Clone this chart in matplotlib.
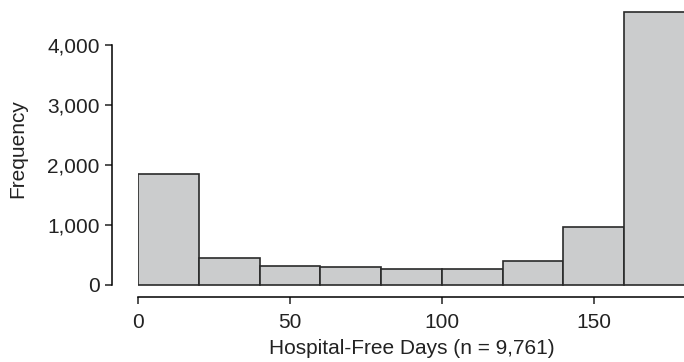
import numpy as np
import matplotlib.pyplot as plt

plt.rcParams['font.family'] = ['Liberation Sans', 'DejaVu Sans']

# histogram bins (hospital-free days) and counts
bin_edges = [0, 20, 40, 60, 80, 100, 120, 140, 160, 180]
counts = [1855, 455, 322, 300, 267, 272, 405, 967, 4555]
yticks = [0, 1000, 2000, 3000, 4000]
xticks = [0, 50, 100, 150]

fig = plt.figure(figsize=(6.84, 3.62), dpi=100)
ax = fig.add_axes([138/684, (362-296.7)/362, 547/684, 296.7/362])

widths = np.diff(bin_edges)
ax.bar(bin_edges[:-1], counts, width=widths, align='edge',
       color='#cbcccd', edgecolor='#2a2a2a', linewidth=1.2)

ax.set_xlim(0, 180)
ax.set_ylim(-195, 4750)

for s in ['top', 'right']:
    ax.spines[s].set_visible(False)
ax.spines['left'].set_position(('outward', 18.7))
ax.spines['left'].set_bounds(0, 4000)
ax.spines['bottom'].set_bounds(0, 180)
ax.spines['left'].set_linewidth(1.1)
ax.spines['bottom'].set_linewidth(1.1)

ax.set_yticks(yticks)
ax.set_yticklabels([f'{v:,}' for v in yticks])
ax.set_xticks(xticks)
ax.tick_params(axis='both', length=5, width=1.1, labelsize=15, colors='#222222', pad=4)
ax.tick_params(axis='x', pad=7)

ax.set_xlabel('Hospital-Free Days (n = 9,761)', fontsize=15, color='#222222', labelpad=5)
ax.set_ylabel('Frequency', fontsize=15, color='#222222', labelpad=14)

fig.savefig('out.png', dpi=100)
